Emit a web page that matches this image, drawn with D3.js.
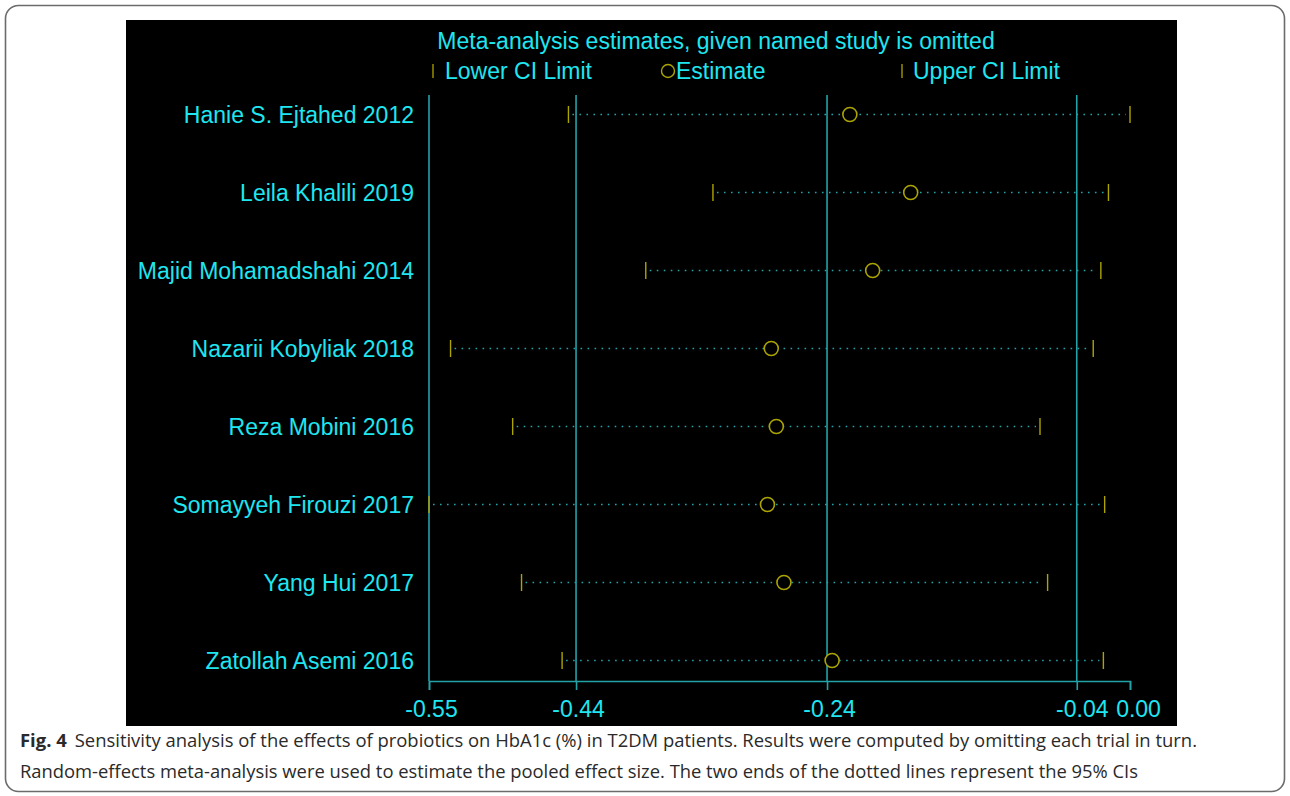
<!DOCTYPE html>
<html>
<head>
<meta charset="utf-8">
<script src="https://cdn.jsdelivr.net/npm/d3@7"></script>
<style>
  body { margin: 0; background: #fff; }
  svg { display: block; }
</style>
</head>
<body>
<svg id="chart"></svg>
<script>
// studies omitted in turn, with the pooled estimate and 95% CI that remain
const studies = ["Hanie S. Ejtahed 2012", "Leila Khalili 2019", "Majid Mohamadshahi 2014",
    "Nazarii Kobyliak 2018", "Reza Mobini 2016", "Somayyeh Firouzi 2017",
    "Yang Hui 2017", "Zatollah Asemi 2016"]
const lowerCI = [-0.443, -0.329, -0.382, -0.536, -0.487, -0.553, -0.480, -0.448]
const estimate = [-0.221, -0.173, -0.203, -0.283, -0.279, -0.286, -0.273, -0.235]
const upperCI = [0.000, -0.017, -0.023, -0.029, -0.071, -0.020, -0.065, -0.021]

// overall random-effects result (lower CI, estimate, upper CI)
const overall = [-0.437, -0.239, -0.042]
const tickLabels = ["-0.55", "-0.44", "-0.24", "-0.04", "0.00"]

const width = 1290
const height = 796

const cyan = "#1fe6f0"
const teal = "#23a2a8"
const olive = "#aca400"

const rows = studies.map((s, i) => ({ name: s, lo: lowerCI[i], est: estimate[i], hi: upperCI[i] }))

const svg = d3.select("#chart")
    .attr("width", width)
    .attr("height", height)
    .attr("viewBox", [0, 0, width, height])

// figure frame
svg.append("rect")
    .attr("x", 5.5).attr("y", 5.5)
    .attr("width", 1279).attr("height", 786)
    .attr("rx", 13)
    .attr("fill", "none")
    .attr("stroke", "#6b6b6b")
    .attr("stroke-width", 1.6)

// black graph panel
svg.append("rect")
    .attr("x", 126).attr("y", 20)
    .attr("width", 1051).attr("height", 706)
    .attr("fill", "#000")

const minLo = d3.min(lowerCI)
const maxHi = d3.max(upperCI)

const x = d3.scaleLinear()
    .domain([minLo, maxHi])
    .range([429, 1130])

const y = d3.scalePoint()
    .domain(studies)
    .range([114.5, 660.5])

const plotTop = 95
const axisY = 681

// overall CI and estimate reference lines
svg.selectAll(".ref")
    .data(overall)
    .enter()
    .append("line")
    .attr("x1", d => x(d)).attr("x2", d => x(d))
    .attr("y1", plotTop).attr("y2", axisY)
    .attr("stroke", teal)
    .attr("stroke-width", 1.6)

// left edge line
svg.append("line")
    .attr("x1", x(minLo)).attr("x2", x(minLo))
    .attr("y1", plotTop).attr("y2", axisY)
    .attr("stroke", teal)
    .attr("stroke-width", 1.6)

// x axis
const tickVals = [minLo, ...overall, maxHi]
const axis = d3.axisBottom(x)
    .tickValues(tickVals)
    .tickSize(9)
    .tickPadding(6)
    .tickFormat((d, i) => tickLabels[i])

const gx = svg.append("g")
    .attr("transform", `translate(0,${axisY})`)
    .call(axis)
gx.select(".domain").attr("stroke", teal).attr("stroke-width", 1.6)
gx.selectAll(".tick line").attr("stroke", teal).attr("stroke-width", 1.6)
gx.selectAll(".tick text")
    .attr("fill", cyan)
    .attr("font-family", "Liberation Sans, Arial, sans-serif")
    .attr("font-size", 23)
    .attr("dy", "0.9em")
    .attr("dx", 2)
// the last two labels sit close; nudge as in the original
gx.selectAll(".tick text").filter((d, i) => i === 3).attr("dx", 5)
gx.selectAll(".tick text").filter((d, i) => i === 4).attr("dx", 8)

// study labels
svg.selectAll(".lab")
    .data(rows)
    .enter()
    .append("text")
    .attr("x", 414)
    .attr("y", d => y(d.name))
    .attr("dy", "0.36em")
    .attr("text-anchor", "end")
    .attr("fill", cyan)
    .attr("font-family", "Liberation Sans, Arial, sans-serif")
    .attr("font-size", 23)
    .text(d => d.name)

// dotted CI lines
svg.selectAll(".ci")
    .data(rows)
    .enter()
    .append("line")
    .attr("x1", d => x(d.lo) + 4).attr("x2", d => x(d.hi) - 4)
    .attr("y1", d => y(d.name)).attr("y2", d => y(d.name))
    .attr("stroke", teal)
    .attr("stroke-width", 1.3)
    .attr("stroke-dasharray", "1.6,5.4")

// CI end marks
const ends = rows.flatMap(d => [{ name: d.name, v: d.lo }, { name: d.name, v: d.hi }])
svg.selectAll(".end")
    .data(ends)
    .enter()
    .append("line")
    .attr("x1", d => x(d.v)).attr("x2", d => x(d.v))
    .attr("y1", d => y(d.name) - 8.5).attr("y2", d => y(d.name) + 8.5)
    .attr("stroke", olive)
    .attr("stroke-width", 1.4)

// estimates
svg.selectAll(".est")
    .data(rows)
    .enter()
    .append("circle")
    .attr("cx", d => x(d.est))
    .attr("cy", d => y(d.name))
    .attr("r", 7)
    .attr("fill", "#000")
    .attr("stroke", olive)
    .attr("stroke-width", 1.6)

// title and legend
svg.append("text")
    .attr("x", 716).attr("y", 49)
    .attr("text-anchor", "middle")
    .attr("fill", cyan)
    .attr("font-family", "Liberation Sans, Arial, sans-serif")
    .attr("font-size", 23)
    .text("Meta-analysis estimates, given named study is omitted")

const legY = 71
const legText = svg.append("g")
    .attr("fill", cyan)
    .attr("font-family", "Liberation Sans, Arial, sans-serif")
    .attr("font-size", 23)

svg.append("line").attr("x1", 433).attr("x2", 433).attr("y1", legY - 7).attr("y2", legY + 7)
    .attr("stroke", olive).attr("stroke-width", 1.3)
legText.append("text").attr("x", 445).attr("y", legY + 8).text("Lower CI Limit")

svg.append("circle").attr("cx", 668).attr("cy", legY).attr("r", 6.5)
    .attr("fill", "none").attr("stroke", olive).attr("stroke-width", 1.4)
legText.append("text").attr("x", 676).attr("y", legY + 8).text("Estimate")

svg.append("line").attr("x1", 902).attr("x2", 902).attr("y1", legY - 7).attr("y2", legY + 7)
    .attr("stroke", olive).attr("stroke-width", 1.3)
legText.append("text").attr("x", 913).attr("y", legY + 8).text("Upper CI Limit")

// caption
const cap = svg.append("g")
    .attr("font-family", "Open Sans, Noto Sans, sans-serif")
    .attr("font-size", 18.5)
    .attr("fill", "#2a2a2a")

const line1 = cap.append("text").attr("x", 20).attr("y", 747)
    .attr("textLength", 1177)
    .attr("lengthAdjust", "spacingAndGlyphs")
line1.append("tspan").attr("font-weight", "bold").text("Fig. 4")
line1.append("tspan").attr("dx", 8)
    .text("Sensitivity analysis of the effects of probiotics on HbA1c (%) in T2DM patients. Results were computed by omitting each trial in turn.")

cap.append("text").attr("x", 20).attr("y", 778)
    .attr("textLength", 1118)
    .attr("lengthAdjust", "spacingAndGlyphs")
    .text("Random-effects meta-analysis were used to estimate the pooled effect size. The two ends of the dotted lines represent the 95% CIs")
</script>
</body>
</html>
